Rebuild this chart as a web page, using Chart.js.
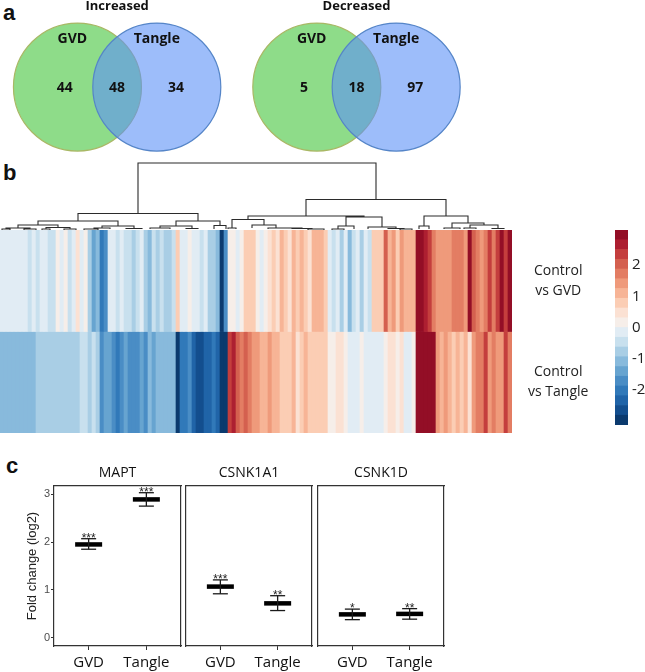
<!DOCTYPE html>
<html lang="en">
<head>
  <meta charset="UTF-8">
  <title>GVD and Tangle expression changes</title>
  <script src="https://cdn.jsdelivr.net/npm/chart.js"></script>
  <style>
    * { margin: 0; padding: 0; box-sizing: border-box; }
    body { width: 645px; height: 672px; background: #fff; position: relative; overflow: hidden; }
    .box { position: absolute; }
    .tag { position: absolute; font: bold 22px/22px 'Liberation Sans', Arial, sans-serif; color: #111; }
  </style>
</head>
<body>
  <div class="tag" style="left:3px; top:2px">a</div>
  <div class="tag" style="left:3px; top:162px">b</div>
  <div class="tag" style="left:6px; top:455px">c</div>

  <div class="box" style="left:0; top:0"><canvas id="venn" width="645" height="160"></canvas></div>
  <div class="box" style="left:0; top:160px"><canvas id="dendro" width="512" height="70"></canvas></div>
  <div class="box" style="left:0; top:230px"><canvas id="heat" width="600" height="203"></canvas></div>
  <div class="box" style="left:600px; top:222px"><canvas id="scale" width="45" height="212"></canvas></div>
  <div class="box" style="left:0; top:460px"><canvas id="fold0" width="182" height="212"></canvas></div>
  <div class="box" style="left:183px; top:460px"><canvas id="fold1" width="130" height="212"></canvas></div>
  <div class="box" style="left:315px; top:460px"><canvas id="fold2" width="130" height="212"></canvas></div>

  <script>
    // ---- panel a: overlap counts
    const vennTitles = ['Increased', 'Decreased'];
    const setNames = ['GVD', 'Tangle'];
    const gvdOnly = [44, 5];
    const shared = [48, 18];
    const tangleOnly = [34, 97];

    // ---- panel b: log2 fold change per gene (clustered order)
    const heatRows = ['Control vs GVD', 'Control vs Tangle'];
    const gvdRow = [
      -0.15, -0.15, -0.15, -0.15, -0.15, -0.15, -0.15, -0.4, -0.15, -0.4, -0.15, -0.15, -0.4, -0.4, 0.05, -0.15,
      0.05, -0.4, -0.15, 0.3, -0.15, 0.05, -0.6, -1.1, -0.9, -1.7, -1.3, -0.15, -0.15, -0.4, -0.15, -0.4,
      -0.4, -0.6, -0.4, -0.15, -0.6, -0.8, -0.4, -0.6, -0.4, -0.7, -0.7, -0.4, 0.7, -0.15, -0.15, 0.05,
      -0.15, -0.15, -0.4, -0.15, -0.6, -0.7, -1.0, -2.3, -1.3, 0.05, 0.05, -0.15, 0.1, 0.6, 0.5, 0.7,
      0.05, -0.1, 0.05, 0.35, 0.5, 0.35, 0.8, 0.6, 0.35, 0.8, 0.5, 0.8, 0.6, 0.35, 0.9, 0.9,
      0.9, 0.6, -0.15, -0.4, -0.15, -0.6, -0.15, -0.8, -0.4, -0.15, -0.6, -0.15, -0.4, 0.6, 0.6, 0.7,
      1.6, 0.8, 1.0, 0.7, 1.1, 0.8, 0.9, 0.8, 2.4, 2.4, 2.1, 1.9, 1.3, 1.1, 1.1, 1.2,
      1.1, 1.4, 1.4, 1.4, 1.2, 2.4, 1.7, 1.3, 1.1, 1.4, 1.8, 1.3, 1.9, 2.4, 1.8, 2.4
    ];
    const tangleRow = [
      -0.8, -0.9, -0.9, -0.9, -0.9, -0.9, -0.9, -0.9, -0.9, -0.6, -0.6, -0.6, -0.6, -0.6, -0.6, -0.6,
      -0.6, -0.6, -0.6, -0.6, -0.4, -0.4, -0.6, -0.4, -0.6, -1.3, -1.1, -1.2, -1.3, -1.6, -1.3, -1.2,
      -1.3, -1.3, -1.4, -1.1, -1.3, -0.9, -1.1, -0.9, -1.0, -0.9, -0.9, -1.0, -2.4, -1.6, -1.6, -1.4,
      -1.8, -2.2, -2.1, -1.8, -1.9, -1.7, -2.0, -2.3, -2.4, 1.9, 2.1, 1.6, 1.3, 1.6, 1.3, 1.1,
      1.0, 0.9, 0.8, 1.0, 0.9, 0.9, 0.7, 0.5, 0.6, 0.8, 0.4, 0.7, 0.9, 0.7, 0.6, 0.6,
      0.7, 0.6, 0.05, 0.2, 0.35, 0.3, 0.1, -0.15, -0.1, -0.2, 0.05, -0.15, -0.2, -0.1, -0.15, -0.15,
      0.2, 0.3, 0.3, 0.2, 0.3, -0.1, -0.15, 0.2, 2.4, 2.4, 2.4, 2.4, 2.4, 1.1, 0.9, 1.0,
      0.8, 0.7, 0.8, 0.6, 0.9, 0.35, 1.2, 1.3, 1.4, 1.8, 1.1, 1.3, 1.1, 1.2, 1.9, 1.3
    ];
    // merges: [left child pos, right child pos, merge height, left child height, right child height]
    const dendroNodes = [
      [34.5, 94, 67, 16.5, 30.5],
      [19.5, 49.5, 16.5, 9, 9],
      [9.5, 29.5, 9, 5, 4],
      [4.5, 14.5, 5, 2, 2.5],
      [1.5, 7.5, 2, 1, 1],
      [0.5, 2.5, 1, 0, 0],
      [6, 9, 1, 0, 0],
      [11.5, 17.5, 2.5, 1, 1],
      [10.5, 12.5, 1, 0, 0],
      [16, 19, 1, 0, 0],
      [25.5, 33.5, 4, 2, 1.5],
      [23.5, 27.5, 2, 1, 1],
      [21, 24.5, 1, 0, 0],
      [31.5, 35.5, 1.5, 1, 1],
      [44, 55, 9, 4, 4.5],
      [40, 48, 4, 2, 1.5],
      [37.5, 42.5, 2, 1, 1],
      [46.5, 49.5, 1.5, 1, 1],
      [53.5, 56.5, 4.5, 1, 1],
      [76.5, 111.5, 30.5, 14, 14],
      [62, 91, 14, 10.5, 13],
      [58, 66, 10.5, 2, 5],
      [57, 59, 2, 1, 1],
      [63, 69, 5, 2, 2],
      [67, 75.5, 2, 1, 1.5],
      [73, 78, 1.5, 1, 1],
      [77, 81, 1, 0, 0],
      [86.5, 95.5, 13, 4, 3],
      [84.5, 88.5, 4, 1, 1],
      [83, 86, 1, 0, 0],
      [92, 99, 3, 1, 1.5],
      [97, 101, 1.5, 1, 1],
      [100, 103, 1, 0, 0],
      [106, 117, 14, 4, 7],
      [104.75, 107.25, 4, 1, 1],
      [113, 121, 7, 2, 5],
      [111, 115, 2, 1, 1],
      [117.5, 124.5, 5, 2, 1.5],
      [116, 119, 2, 1, 1],
      [123, 126, 1.5, 1, 1]
    ];
    const colorBreaks = [-2.5, -2.25, -2, -1.75, -1.5, -1.25, -1, -0.75, -0.5, -0.25, 0,
      0.25, 0.5, 0.75, 1, 1.25, 1.5, 1.75, 2, 2.25, 2.5];
    const scaleTicks = [-2, -1, 0, 1, 2];

    // ---- panel c: qPCR fold change
    const genes = ['MAPT', 'CSNK1A1', 'CSNK1D'];
    const groups = ['GVD', 'Tangle'];
    const foldMean = [[1.95, 2.89], [1.07, 0.72], [0.49, 0.50]];
    const foldLow = [[1.85, 2.75], [0.92, 0.57], [0.38, 0.39]];
    const foldHigh = [[2.07, 3.03], [1.21, 0.88], [0.60, 0.61]];
    const foldStars = [['***', '***'], ['***', '**'], ['*', '**']];
    const foldTicks = [0, 1, 2, 3];

    const heatPalette = ['#0b3a6e', '#134e8e', '#2064a8', '#3179b9', '#4a8dc5', '#67a4d0', '#88badc',
      '#a9cee5', '#c8e0ee', '#e1ecf4', '#f6eee9', '#fbe1d3', '#fbcdb4', '#f7b496', '#ef9a7b',
      '#e37d63', '#d4604f', '#c43e3d', '#ad1f31', '#930e26'];

    function fillFor(v) {
      let i = colorBreaks.findIndex((b, j) => j > 0 && v < b) - 1;
      if (i < 0) i = v < colorBreaks[0] ? 0 : heatPalette.length - 1;
      return heatPalette[i];
    }

    Chart.defaults.animation = false;
    Chart.defaults.responsive = false;
    Chart.defaults.events = [];
    Chart.defaults.layout.autoPadding = false;
    Chart.defaults.plugins.legend.display = false;
    Chart.defaults.plugins.tooltip.enabled = false;

    const calibri = "'Open Sans', 'Noto Sans', sans-serif";
    const arial = "'Liberation Sans', Arial, sans-serif";
    const noEdgePad = (s) => { s.paddingTop = 0; s.paddingBottom = 0; s.paddingLeft = 0; s.paddingRight = 0; };

    // ---------- Venn diagrams
    const SEP = 0.62, STEP = 1.87;
    const radiusPx = (ctx) => {
      const s = ctx.chart.scales.x;
      return Math.abs(s.getPixelForValue(0.5) - s.getPixelForValue(0));
    };
    const vennText = {
      id: 'vennText',
      afterDatasetsDraw(chart) {
        const { ctx, scales: { x, y } } = chart;
        ctx.save();
        ctx.fillStyle = '#111';
        ctx.textAlign = 'center';
        ctx.textBaseline = 'middle';
        vennTitles.forEach((t, k) => {
          const g = k * STEP, tg = k * STEP + SEP;
          ctx.font = 'bold 13px ' + calibri;
          ctx.fillText(t, x.getPixelForValue((g + tg) / 2), y.getPixelForValue(0.63));
          ctx.font = 'bold 14px ' + calibri;
          ctx.fillText(setNames[0], x.getPixelForValue(g - 0.04), y.getPixelForValue(0.375));
          ctx.fillText(setNames[1], x.getPixelForValue(tg), y.getPixelForValue(0.375));
          ctx.fillText(gvdOnly[k], x.getPixelForValue(g - 0.1), y.getPixelForValue(-0.01));
          ctx.fillText(shared[k], x.getPixelForValue((g + tg) / 2), y.getPixelForValue(-0.01));
          ctx.fillText(tangleOnly[k], x.getPixelForValue(tg + 0.15), y.getPixelForValue(-0.01));
        });
        ctx.restore();
      }
    };
    new Chart(document.getElementById('venn'), {
      type: 'scatter',
      data: {
        datasets: [
          {
            label: setNames[1], order: 1,
            data: vennTitles.map((t, k) => ({ x: k * STEP + SEP, y: 0 })),
            pointRadius: radiusPx, pointBackgroundColor: 'rgba(92,145,247,0.6)',
            pointBorderColor: '#5585c8', pointBorderWidth: 1.2
          },
          {
            label: setNames[0], order: 2,
            data: vennTitles.map((t, k) => ({ x: k * STEP, y: 0 })),
            pointRadius: radiusPx, pointBackgroundColor: '#8edc89',
            pointBorderColor: '#a9b865', pointBorderWidth: 1.2
          }
        ]
      },
      options: {
        layout: { padding: 0 },
        scales: {
          x: { type: 'linear', display: false, min: -0.605, max: 4.434 },
          y: { type: 'linear', display: false, min: -0.57, max: 0.68 }
        }
      },
      plugins: [vennText]
    });

    // ---------- dendrogram
    const tree = [];
    dendroNodes.forEach(([xl, xr, h, hl, hr]) => {
      tree.push({ x: xl, y: hl }, { x: xl, y: h }, { x: xr, y: h }, { x: xr, y: hr }, { x: xr, y: null });
    });
    new Chart(document.getElementById('dendro'), {
      type: 'line',
      data: {
        datasets: [{
          data: tree, borderColor: '#2b2b2b', borderWidth: 1.1, pointRadius: 0,
          tension: 0, spanGaps: false, clip: false
        }]
      },
      options: {
        layout: { padding: 0 },
        scales: {
          x: { type: 'linear', display: false, min: 0, max: gvdRow.length },
          y: { type: 'linear', display: false, min: 0, max: 70 }
        }
      }
    });

    // ---------- heatmap
    new Chart(document.getElementById('heat'), {
      type: 'bar',
      data: {
        labels: gvdRow.map((v, i) => i + 1),
        datasets: [gvdRow, tangleRow].map((row, r) => ({
          label: heatRows[r],
          data: row.map(() => [1 - r, 2 - r]),
          backgroundColor: row.map(fillFor),
          borderWidth: 0,
          barPercentage: 1,
          categoryPercentage: 1,
          grouped: false
        }))
      },
      options: {
        layout: { padding: 0 },
        scales: {
          x: { display: false },
          y: { display: false, min: 0, max: 2 },
          rows: {
            type: 'category', position: 'right', labels: heatRows, offset: true,
            afterFit: (s) => { s.width = 88; noEdgePad(s); },
            grid: { display: false, drawTicks: false },
            border: { display: false },
            ticks: {
              padding: 16, crossAlign: 'center', color: '#222',
              font: { family: calibri, size: 14, lineHeight: 1.45 },
              callback: (v, i) => {
                const t = heatRows[i];
                const j = t.indexOf(' vs ');
                return [t.slice(0, j), t.slice(j + 1)];
              }
            }
          }
        }
      }
    });

    // ---------- colour key
    const keyColors = heatPalette.slice().reverse();
    new Chart(document.getElementById('scale'), {
      type: 'bar',
      data: {
        labels: keyColors.map((c, i) => i),
        datasets: [{
          data: keyColors.map(() => [0, 1]),
          backgroundColor: keyColors,
          borderWidth: 0, barPercentage: 1, categoryPercentage: 1
        }]
      },
      options: {
        indexAxis: 'y',
        layout: { padding: { left: 15, top: 8, bottom: 9, right: 0 } },
        scales: {
          x: { display: false, min: 0, max: 1 },
          y: { display: false },
          val: {
            type: 'linear', position: 'right', min: -2.5, max: 2.5,
            afterBuildTicks: (s) => { s.ticks = scaleTicks.map(v => ({ value: v })); },
            afterFit: (s) => { s.width = 17; noEdgePad(s); },
            grid: { display: false, drawTicks: false },
            border: { display: false },
            ticks: { padding: 4, color: '#222', font: { family: calibri, size: 15 } }
          }
        }
      }
    });

    // ---------- fold change panels
    const starText = {
      id: 'starText',
      afterDatasetsDraw(chart) {
        const k = chart.options.plugins.starText.gene;
        const { ctx, scales: { x, y } } = chart;
        ctx.save();
        ctx.fillStyle = '#222';
        ctx.font = '12px ' + arial;
        ctx.textAlign = 'center';
        ctx.textBaseline = 'alphabetic';
        groups.forEach((g, i) => {
          ctx.fillText(foldStars[k][i], x.getPixelForValue(i + 1), y.getPixelForValue(foldHigh[k][i]) + 3);
        });
        ctx.restore();
      }
    };
    const frameAxis = (position, min, max, sizeKey) => ({
      type: 'linear', position, min, max,
      grid: { display: false, drawTicks: false },
      border: { display: true, color: '#333', width: 1.2 },
      ticks: { display: false },
      afterFit: (s) => { s[sizeKey] = 0; noEdgePad(s); }
    });

    function foldChart(id, k, withAxis) {
      const pts = (arr) => groups.map((g, i) => ({ x: i + 1, y: arr[k][i] }));
      const stems = [];
      groups.forEach((g, i) => {
        stems.push({ x: i + 1, y: foldLow[k][i] }, { x: i + 1, y: foldHigh[k][i] }, { x: i + 1, y: null });
      });
      new Chart(document.getElementById(id), {
        type: 'scatter',
        data: {
          datasets: [
            { type: 'line', data: stems, borderColor: '#1a1a1a', borderWidth: 1.3, pointRadius: 0, spanGaps: false },
            {
              data: pts(foldLow).concat(pts(foldHigh)), pointStyle: 'line', pointRadius: 7.5,
              pointBorderColor: '#1a1a1a', pointBorderWidth: 1.3
            },
            {
              data: pts(foldMean), pointStyle: 'line', pointRadius: 13.5,
              pointBorderColor: '#000', pointBorderWidth: 4.5
            }
          ]
        },
        options: {
          layout: { padding: { left: withAxis ? 0 : 3, right: 1, top: 0, bottom: 0 } },
          plugins: {
            title: {
              display: true, text: genes[k], fullSize: false, color: '#111',
              font: { family: calibri, size: 14, weight: 'normal', lineHeight: 1.2 },
              padding: { top: 4.5, bottom: 4.7 }
            },
            starText: { gene: k }
          },
          scales: {
            x: {
              type: 'linear', min: 0.4, max: 2.6,
              afterBuildTicks: (s) => { s.ticks = groups.map((g, i) => ({ value: i + 1 })); },
              afterFit: (s) => { s.height = 26; noEdgePad(s); },
              grid: { drawOnChartArea: false, tickLength: 4, color: '#333' },
              border: { display: true, color: '#333', width: 1.2 },
              ticks: {
                padding: 4, color: '#111', font: { family: calibri, size: 15 },
                callback: (v) => groups[v - 1]
              }
            },
            y: {
              min: -0.17, max: 3.17,
              afterBuildTicks: (s) => { s.ticks = foldTicks.map(v => ({ value: v })); },
              afterFit: (s) => { s.width = withAxis ? 54 : 0; noEdgePad(s); },
              grid: { drawOnChartArea: false, drawTicks: withAxis, tickLength: 3, color: '#333' },
              border: { display: true, color: '#333', width: 1.2 },
              ticks: { display: withAxis, padding: 1, color: '#4d4d4d', font: { family: arial, size: 11 } },
              title: {
                display: withAxis, text: 'Fold change (log2)', color: '#222',
                font: { family: "'Liberation Sans Narrow', " + arial, size: 13 },
                padding: { top: 25, bottom: 0 }
              }
            },
            xTop: frameAxis('top', 0.4, 2.6, 'height'),
            yRight: frameAxis('right', -0.17, 3.17, 'width')
          }
        },
        plugins: [starText]
      });
    }
    genes.forEach((g, k) => foldChart('fold' + k, k, k === 0));
  </script>
</body>
</html>
